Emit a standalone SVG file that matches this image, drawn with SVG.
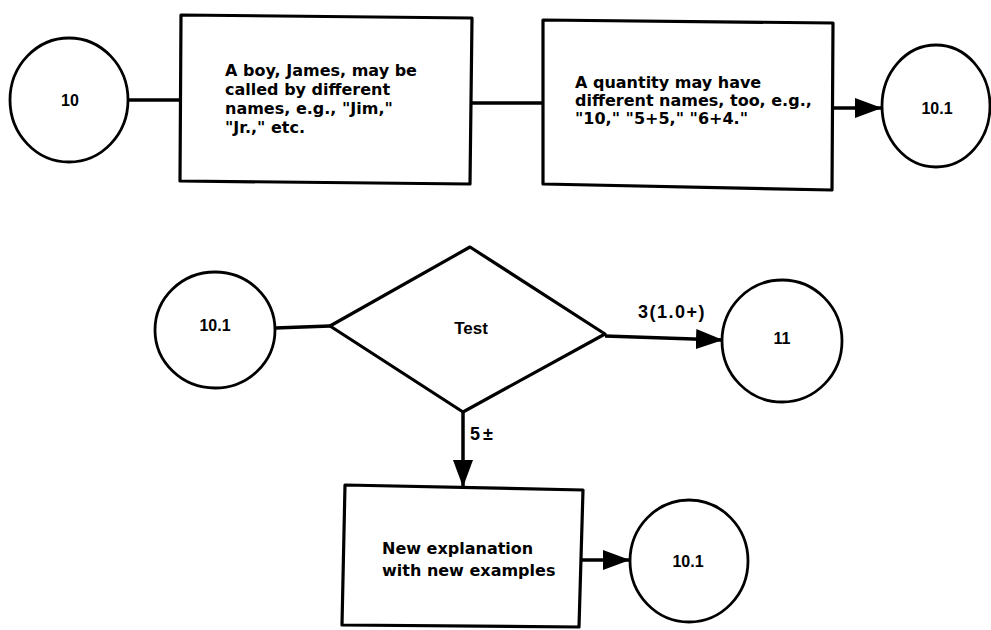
<svg xmlns="http://www.w3.org/2000/svg" width="991" height="630" viewBox="0 0 991 630">
<style>
.shape{fill:#fff;stroke:#000;stroke-width:3.2;stroke-linejoin:round}
.circ{fill:#fff;stroke:#000;stroke-width:2.8}
.line{fill:none;stroke:#000;stroke-width:3.5}
.body{font-family:"DejaVu Sans",sans-serif;font-weight:bold;font-size:16px;fill:#000}
.lbl{font-family:"Liberation Sans",Arial,sans-serif;font-weight:bold;font-size:16px;fill:#000}
.elbl{font-family:"Liberation Sans",Arial,sans-serif;font-weight:bold;font-size:18px;fill:#000;letter-spacing:1.5px}
</style>
<defs>
<marker id="ah" markerUnits="userSpaceOnUse" markerWidth="28" markerHeight="22" refX="27" refY="10" orient="auto">
<path d="M0,0 L27,10 L0,20 Z" fill="#000"/>
</marker>
</defs>
<rect width="991" height="630" fill="#fff"/>
<g id="connectors">
<line class="line" x1="128" y1="100" x2="181" y2="100"/>
<line class="line" x1="471" y1="103" x2="543" y2="103"/>
<line class="line" x1="833" y1="108" x2="882" y2="108" marker-end="url(#ah)"/>
<line class="line" x1="275" y1="328" x2="330" y2="326"/>
<line class="line" x1="605" y1="336" x2="723" y2="340" marker-end="url(#ah)"/>
<line class="line" x1="463" y1="412" x2="463" y2="487" marker-end="url(#ah)"/>
<line class="line" x1="582" y1="560" x2="630" y2="560" marker-end="url(#ah)"/>
<text class="elbl" x="638" y="318">3(1.0+)</text>
<text class="elbl" x="470" y="440" style="letter-spacing:3px">5±</text>
</g>
<g id="n10">
<ellipse class="circ" cx="69" cy="100" rx="59" ry="62"/>
<text class="lbl" x="70" y="106" text-anchor="middle">10</text>
</g>
<g id="box1">
<polygon class="shape" points="181,15 472,18 470,184 180,181"/>
<text class="body" x="225" y="76">A boy, James, may be</text>
<text class="body" x="225" y="95">called by different</text>
<text class="body" x="225" y="114">names, e.g., "Jim,"</text>
<text class="body" x="225" y="133">"Jr.," etc.</text>
</g>
<g id="box2">
<polygon class="shape" points="543,20 833,23 832,190 543,184"/>
<text class="body" x="575" y="88">A quantity may have</text>
<text class="body" x="575" y="106">different names, too, e.g.,</text>
<text class="body" x="575" y="124">"10," "5+5," "6+4."</text>
</g>
<g id="n10_1a">
<ellipse class="circ" cx="936" cy="106" rx="54" ry="61"/>
<text class="lbl" x="937" y="114" text-anchor="middle">10.1</text>
</g>
<g id="n10_1b">
<ellipse class="circ" cx="215" cy="330" rx="60" ry="58"/>
<text class="lbl" x="215" y="331" text-anchor="middle">10.1</text>
</g>
<g id="test">
<polygon class="shape" points="330,326 470,247 605,334 463,412"/>
<text class="lbl" x="471" y="334" text-anchor="middle" style="font-size:17px">Test</text>
</g>
<g id="n11">
<ellipse class="circ" cx="782" cy="341" rx="60" ry="61"/>
<text class="lbl" x="782" y="344" text-anchor="middle">11</text>
</g>
<g id="box3">
<polygon class="shape" points="345,485 583,490 579,627 342,625"/>
<text class="body" x="382" y="554">New explanation</text>
<text class="body" x="382" y="576">with new examples</text>
</g>
<g id="n10_1c">
<ellipse class="circ" cx="689" cy="561" rx="59" ry="61"/>
<text class="lbl" x="688" y="567" text-anchor="middle">10.1</text>
</g>
</svg>
